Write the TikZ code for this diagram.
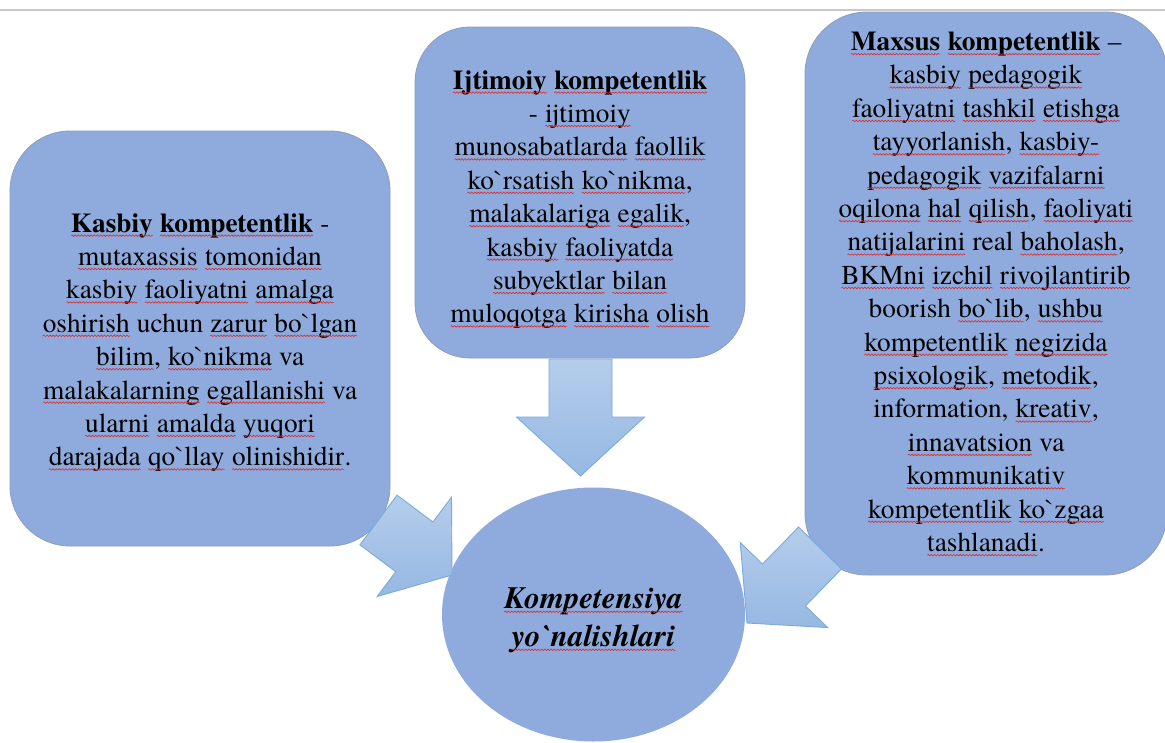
\documentclass[tikz,border=0pt]{standalone}
\usepackage{fontspec}
\setmainfont{texgyretermes}[Extension=.otf, UprightFont=*-regular, BoldFont=*-bold, ItalicFont=*-italic, BoldItalicFont=*-bolditalic]
\newcommand\bq{\textasciigrave}
\usetikzlibrary{shapes.geometric,calc,decorations.pathmorphing}
\definecolor{boxblue}{HTML}{8FAADC}
\definecolor{boxedge}{HTML}{8C9DBF}
\definecolor{arrlight}{HTML}{B4CDEB}
\definecolor{arrdark}{HTML}{97B8E2}
\definecolor{arredge}{HTML}{79AADF}
\definecolor{rulegray}{HTML}{C8C8C8}
\definecolor{spellred}{HTML}{E02828}
\tikzset{
  card/.style={draw=boxedge, line width=0.8pt, fill=boxblue, rounded corners=60pt, inner sep=0pt},
  cardtext/.style={align=center, text=black, inner sep=0pt,
    font=\rmfamily\fontsize{27.3}{33.4}\selectfont},
  hub/.style={ellipse, draw=none, fill=boxblue, inner sep=0pt},
  hubtext/.style={align=center, text=black, inner sep=0pt,
    font=\rmfamily\fontsize{31}{38}\selectfont},
  squiggle/.style={spellred, line width=0.6pt, decorate,
    decoration={snake, amplitude=0.75pt, segment length=3.2pt}},
  blockarrow/.style={draw=arredge, line width=0.9pt, top color=arrlight, bottom color=arrdark, line join=miter}
}
% red wavy underline of one word
\newcommand\sq[1]{\tikz[baseline=(sqw.base)]{\node[inner sep=0pt,outer sep=0pt,anchor=base](sqw){#1};
  \draw[squiggle]([yshift=-3.6pt]sqw.base west)--([yshift=-3.6pt]sqw.base east);}}
% #1 tail centre, #2 tip, #3 half shaft width, #4 half head width, #5 head length
\newcommand\blockarr[5]{%
  \coordinate (hb) at ($(#2)!#5!(#1)$);
  \path[blockarrow]
    ($(#1)!#3!90:(#2)$) -- ($(hb)!#3!-90:(#1)$) -- ($(hb)!#4!-90:(#1)$) -- (#2)
    -- ($(hb)!#4!90:(#1)$) -- ($(hb)!#3!90:(#1)$) -- ($(#1)!#3!-90:(#2)$) -- cycle;}
\begin{document}
\begin{tikzpicture}[x=1pt,y=-1pt]
\useasboundingbox (0,0) rectangle (1165,742);
\fill[white] (0,0) rectangle (1165,742);
\draw[rulegray, line width=2pt] (0,10) coordinate (r1) -- (1165,10) coordinate (r2);

\node[card, minimum width=380pt, minimum height=415pt] (kasbiy) at (200,338.5) {};
\node[cardtext] (kasbiyT) at (200,342.5)
 {\sq{\textbf{Kasbiy}} \sq{\textbf{kompetentlik}} -\\
  \sq{mutaxassis} \sq{tomonidan}\\
  \sq{kasbiy} \sq{faoliyatni} \sq{amalga}\\
  \sq{oshirish} uchun \sq{zarur} \sq{bo\bq lgan}\\
  \sq{bilim}, \sq{ko\bq nikma} va\\
  \sq{malakalarning} \sq{egallanishi} va\\
  \sq{ularni} \sq{amalda} \sq{yuqori}\\
  \sq{darajada} \sq{qo\bq llay} \sq{olinishidir}.};

\node[card, minimum width=330pt, minimum height=331pt, rounded corners=55pt] (ijtimoiy) at (580,192.5) {};
\node[cardtext] (ijtimoiyT) at (580,199.5)
 {\sq{\textbf{Ijtimoiy}} \sq{\textbf{kompetentlik}}\\
  - \sq{ijtimoiy}\\
  \sq{munosabatlarda} \sq{faollik}\\
  \sq{ko\bq rsatish} \sq{ko\bq nikma},\\
  \sq{malakalariga} \sq{egalik},\\
  \sq{kasbiy} \sq{faoliyatda}\\
  \sq{subyektlar} \sq{bilan}\\
  \sq{muloqotga} \sq{kirisha} \sq{olish}};

\node[card, minimum width=362pt, minimum height=563pt, rounded corners=62pt] (maxsus) at (986,293.5) {};
\node[cardtext] (maxsusT) at (986,294)
 {\sq{\textbf{Maxsus}} \sq{\textbf{kompetentlik}} –\\
  \sq{kasbiy} \sq{pedagogik}\\
  \sq{faoliyatni} \sq{tashkil} \sq{etishga}\\
  \sq{tayyorlanish}, \sq{kasbiy-}\\
  \sq{pedagogik} \sq{vazifalarni}\\
  \sq{oqilona} \sq{hal} \sq{qilish}, \sq{faoliyati}\\
  \sq{natijalarini} real \sq{baholash},\\
  \sq{BKMni} \sq{izchil} \sq{rivojlantirib}\\
  boorish \sq{bo\bq lib}, \sq{ushbu}\\
  \sq{kompetentlik} \sq{negizida}\\
  \sq{psixologik}, \sq{metodik},\\
  information, \sq{kreativ},\\
  \sq{innavatsion} va\\
  \sq{kommunikativ}\\
  \sq{kompetentlik} \sq{ko\bq zgaa}\\
  \sq{tashlanadi}.};

\node[hub, minimum width=303pt, minimum height=254pt] (komp) at (593.5,614.5) {};
\node[hubtext] (kompT) at (593.5,620)
 {\sq{\textbf{\textit{Kompetensiya}}}\\ \sq{\textbf{\textit{yo\bq nalishlari}}}};

% block arrows towards the centre
\coordinate (a1t) at (378.5,520);   \coordinate (a1h) at (452,575);
\coordinate (a2t) at (580.5,359);   \coordinate (a2h) at (580.5,476);
\coordinate (a3t) at (820,548);     \coordinate (a3h) at (747,623);
\blockarr{a1t}{a1h}{31pt}{62pt}{47pt}
\blockarr{a2t}{a2h}{31.5pt}{64pt}{59pt}
\blockarr{a3t}{a3h}{30pt}{61pt}{53pt}
\end{tikzpicture}
\end{document}
